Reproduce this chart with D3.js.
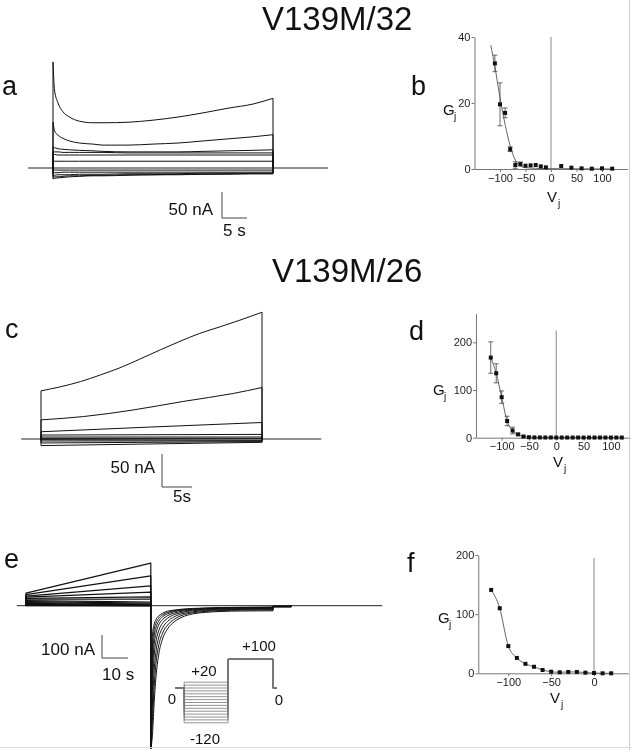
<!DOCTYPE html>
<html><head><meta charset="utf-8">
<script src="https://cdn.jsdelivr.net/npm/d3@7"></script>
<style>body{margin:0;background:#fff}svg{display:block;will-change:transform}</style>
</head><body>
<script>
// ---------------- DATA ----------------
// Panel a (V139M/32 currents): time (s) and current (nA)
const aTime = [0, 0.3, 1, 2, 3.3, 5.3, 8, 10, 15, 20, 25, 30, 35, 40, 44];
const aTraces = [
  [204,150,125,108,98,90,87,87,88,92,98,106,115,123,134],
  [88,72,63,57,52,48,46,44,44,46,48,52,56,60,64],
  [40,39,37,36,35,34,33,32,31,31,31,32,33,34,35],
  [31,31,31,30,30,30,30,30,29,29,29,29,29,29,29],
  [26,26,25,25,25,25,25,25,25,25,25,25,25,25,25],
  [13,13,13,13,13,13,13,13,13,13,13,13,13,13,13],
  [-4,-4,-4,-4,-4,-4,-4,-4,-4,-4,-4,-4,-4,-4,-4],
  [-9,-9,-9,-8,-8,-8,-8,-8,-8,-8,-8,-8,-8,-8,-8],
  [-14,-14,-13,-13,-13,-12,-12,-12,-11,-11,-11,-10,-10,-10,-10],
  [-18,-17,-17,-16,-15,-15,-14,-14,-13,-13,-12,-12,-11,-11,-11],
  [-21,-20,-19,-18,-17,-16,-15,-15,-14,-13,-13,-12,-12,-11,-11]
];
const aBase = [[-5,0],[55,0]];

// Panel b (Gj vs Vj, V139M/32)
const bV   = [-110,-100,-90,-80,-70,-60,-50,-40,-30,-20,-10,20,40,60,80,100,120];
const bG   = [32,19.6,17,6,1.2,1.5,1.0,1.1,1.2,0.8,0.5,0.9,0.4,0.2,0.1,0.2,0.1];
const bErr = [2.5,6.5,1.5,0.7,1,0.6,0.4,0.3,0.3,0.3,0.2,0.2,0.2,0.1,0.1,0.1,0.1];
const bFitV = [-118,-110,-100,-90,-80,-70,-65,-60,-50,-30,0,60,120];
const bFitG = [37.5,31,21.5,13.5,7,2.7,1.5,0.9,0.4,0.2,0.1,0.05,0];

// Panel c (V139M/26 currents)
const cTimes = [
  [0,3.2,6.6,9.9,13.2,16.5,19.9,23.2,26.5,29.9,33.2,36.9],
  [0,7.1,15.4,23.8,32.1,36.9],
  [0,18,36.9],
  [0,36.9],[0,36.9],[0,36.9],[0,36.9],[0,36.9],[0,36.9],[0,36.9]
];
const cVals = [
  [73,79,87,97,108,121,135,148,160,170,180,192],
  [29,34,44,57,69,78],
  [11,18,25],
  [6,7],[3,3],[1,1],[-1,-2],[-3,-3],[-6,-4],[-10,-5]
];
const cBase = [[-3.3,0],[46.8,0]];

// Panel d (Gj vs Vj, V139M/26)
const dV   = [-120,-110,-100,-90,-80,-70,-60,-50,-40,-30,-20,-10,0,10,20,30,40,50,60,70,80,90,100,110,120];
const dG   = [168,135,85,35,15,7,2.5,1,0.5,0.5,0.4,0.4,0.3,0.3,0.3,0.3,0.3,0.3,0.3,0.3,0.3,0.3,0.3,0.3,0.3];
const dErr = [33,20,13,10,7,2,1,0.5,0,0,0,0,0,0,0,0,0,0,0,0,0,0,0,0,0];

// Panel e (currents, ramps then tails at +100)
const eRampStart = [55,48,42,37,32,28,22,18,14,10,7,4,2,0];
const eRampEnd   = [185,130,86,59,38,29,16,11,7,4,2,1,0,-1];
const eTailT = [0,0.3,0.7,1.2,2,3,4.5,6.5,9,12,16,21,27,35,47];
const eTails = [
  [-620,-280,-120,-85,-60,-45,-33,-24,-19,-15,-12,-10,-8,-7,-6],
  [-620,-330,-160,-110,-75,-55,-40,-29,-22,-17,-14,-11,-9,-8,-7],
  [-620,-380,-210,-140,-95,-68,-48,-35,-26,-20,-16,-13,-11,-9,-8],
  [-620,-430,-270,-180,-120,-85,-60,-43,-32,-24,-19,-15,-12,-11,-10],
  [-620,-480,-340,-230,-155,-110,-76,-54,-39,-29,-22,-18,-15,-13,-12],
  [-620,-530,-410,-300,-200,-140,-97,-68,-48,-35,-27,-21,-18,-16,-15],
  [-620,-570,-480,-370,-250,-175,-120,-84,-59,-42,-31,-25,-21,-19,-18],
  [-620,-600,-550,-440,-310,-215,-145,-100,-70,-50,-36,-29,-25,-23,-22]
];
const eAfter = [-2,-2,-3,-3,-4,-4,-5,-5];
const eBase = [[-3.5,0],[137,0]];
const eStepT = 48, eTailEnd = 95, eAfterEnd = 102;

// Voltage protocol inset
const protoV = [20,10,0,-10,-20,-30,-40,-50,-60,-70,-80,-90,-100,-110,-120];
const protoT = [0, 9, 52, 96, 100];
const protoHigh = 100;

// Panel f (Gj vs Vj)
const fV = [-120,-110,-100,-90,-80,-70,-60,-50,-40,-30,-20,-10,0,10,20];
const fG = [141,110,46,26,16,11,5.6,2.7,1.7,2.3,2.3,1.1,0.5,0,0];

// ---------------- DRAWING ----------------
const FONT = '"Liberation Sans", Arial, Helvetica, sans-serif';
const W = 632, H = 750;
const svg = d3.select("body").append("svg").attr("width", W).attr("height", H);
svg.append("rect").attr("width", W).attr("height", H).attr("fill", "#fff");

function text(x, y, s, size, anchor, fill) {
  return svg.append("text").attr("x", x).attr("y", y).attr("font-family", FONT)
    .attr("font-size", size).attr("text-anchor", anchor || "start")
    .attr("fill", fill || "#111").text(s);
}
function path(pts, sx, sy, color, w, curve) {
  const ln = d3.line().x(d => sx(d[0])).y(d => sy(d[1]));
  if (curve) ln.curve(curve);
  svg.append("path").attr("d", ln(pts)).attr("fill", "none")
    .attr("stroke", color).attr("stroke-width", w).attr("stroke-linejoin", "round");
}
function styleAxis(g) {
  g.select(".domain").attr("stroke", "#777").attr("stroke-width", 1);
  g.selectAll(".tick line").attr("stroke", "#777");
  g.selectAll(".tick text").attr("font-family", FONT).attr("font-size", 11).attr("fill", "#222");
}

// Titles
text(262, 30, "V139M/32", 33);
text(272, 282, "V139M/26", 33);

// Panel labels
text(2, 95, "a", 27);
text(411, 95, "b", 27);
text(5, 338, "c", 27);
text(409, 340, "d", 27);
text(4, 568, "e", 27);
text(407, 572, "f", 27);

// ---- Panel a ----
const ax = d3.scaleLinear().domain([0, 44]).range([53, 273]);
const ay = d3.scaleLinear().domain([0, 50]).range([168, 142]);
path(aBase, ax, ay, "#222", 1);
aTraces.forEach(v => {
  const pts = aTime.map((t, i) => [t, v[i]]);
  path(pts, ax, ay, "#111", 1, d3.curveMonotoneX);
  path([[0, 0], [0, v[0]]], ax, ay, "#111", 1);
  path([[44, v[v.length - 1]], [44, 0]], ax, ay, "#111", 1);
});
{
  const x0 = 222, y0 = 218;
  const hV = ay(0) - ay(50), wT = ax(5) - ax(0);
  svg.append("path").attr("d", `M${x0},${y0 - hV}V${y0}H${x0 + wT}`).attr("fill", "none").attr("stroke", "#444");
  text(213, 215, "50 nA", 17, "end");
  text(223, 236, "5 s", 17);
}

// ---- Panel c ----
const cx = d3.scaleLinear().domain([0, 36.9]).range([41, 262]);
const cy = d3.scaleLinear().domain([0, 50]).range([439, 406]);
path(cBase, cx, cy, "#222", 1);
cTimes.forEach((ts, k) => {
  const v = cVals[k];
  path(ts.map((t, i) => [t, v[i]]), cx, cy, "#111", 1, d3.curveMonotoneX);
  path([[0, 0], [0, v[0]]], cx, cy, "#111", 1);
  path([[36.9, v[v.length - 1]], [36.9, 0]], cx, cy, "#111", 1);
});
{
  const x0 = 162, y0 = 487;
  const hV = cy(0) - cy(50), wT = cx(5) - cx(0);
  svg.append("path").attr("d", `M${x0},${y0 - hV}V${y0}H${x0 + wT}`).attr("fill", "none").attr("stroke", "#444");
  text(155, 473, "50 nA", 17, "end");
  text(173, 502, "5s", 17);
}

// ---- Panel e ----
const ex = d3.scaleLinear().domain([0, 10]).range([26, 52]);
const ey = d3.scaleLinear().domain([0, 100]).range([605.7, 582.7]);
path(eBase, ex, ey, "#222", 1);
eRampStart.forEach((s, i) => {
  path([[0, 0], [0, s], [eStepT, eRampEnd[i]], [eStepT, 0]], ex, ey, "#111", 1.2);
});
eTails.forEach((v, k) => {
  path([[eStepT, 0], [eStepT, v[0]]], ex, ey, "#111", 1);
  path(eTailT.map((t, i) => [eStepT + t, v[i]]), ex, ey, "#111", 1, d3.curveMonotoneX);
  path([[eTailEnd, v[v.length - 1]], [eTailEnd, eAfter[k]], [eAfterEnd, eAfter[k]], [eAfterEnd, 0]], ex, ey, "#111", 1);
});
{
  const x0 = 102, y0 = 658;
  const hV = ey(0) - ey(100), wT = ex(10) - ex(0);
  svg.append("path").attr("d", `M${x0},${y0 - hV}V${y0}H${x0 + wT}`).attr("fill", "none").attr("stroke", "#444");
  text(95, 655, "100 nA", 17, "end");
  text(102, 680, "10 s", 17);
}
const px = d3.scaleLinear().domain([0, 100]).range([175, 277]);
const py = d3.scaleLinear().domain([0, 100]).range([688, 659]);
protoV.forEach(v => {
  path([[protoT[0], 0], [protoT[1], 0], [protoT[1], v], [protoT[2], v], [protoT[2], protoHigh],
        [protoT[3], protoHigh], [protoT[3], 0], [protoT[4], 0]], px, py, "#777", 0.8);
});
text(259, 651, "+100", 15, "middle");
text(204, 676, "+20", 15, "middle");
text(172, 704, "0", 15, "middle");
text(279, 705, "0", 15, "middle");
text(205, 744, "-120", 15, "middle");

// ---- G-V panels ----
function gvPanel(o) {
  const gx = svg.append("g").attr("transform", `translate(0,${o.ys(0)})`)
    .call(d3.axisBottom(o.xs).tickValues(o.xTicks).tickSize(3).tickSizeOuter(0).tickPadding(2));
  styleAxis(gx);
  const gy = svg.append("g").attr("transform", `translate(${o.xs.range()[0]},0)`)
    .call(d3.axisLeft(o.ys).tickValues(o.yTicks).tickSize(3).tickSizeOuter(0).tickPadding(1));
  styleAxis(gy);
  svg.append("line").attr("x1", o.xs(0)).attr("x2", o.xs(0)).attr("y1", o.ys(0)).attr("y2", o.ys(o.zeroTop))
    .attr("stroke", "#888").attr("stroke-width", 1);
  path(o.lineV.map((v, i) => [v, o.lineG[i]]), o.xs, o.ys, "#555", 0.9, d3.curveMonotoneX);
  if (o.err) o.V.forEach((v, i) => {
    const e = o.err[i];
    if (e < 0.6) return;
    const x = o.xs(v), y1 = o.ys(o.G[i] + e), y2 = o.ys(Math.max(0, o.G[i] - e));
    svg.append("path").attr("d", `M${x - 2.5},${y1}H${x + 2.5}M${x},${y1}V${y2}M${x - 2.5},${y2}H${x + 2.5}`)
      .attr("fill", "none").attr("stroke", "#444").attr("stroke-width", 0.8);
  });
  o.V.forEach((v, i) => {
    svg.append("rect").attr("x", o.xs(v) - 2).attr("y", o.ys(o.G[i]) - 2).attr("width", 4).attr("height", 4).attr("fill", "#111");
  });
  text(o.gLab[0], o.gLab[1], "G", 15);
  text(o.gLab[0] + 11, o.gLab[1] + 5, "j", 10);
  text(o.vLab[0], o.vLab[1], "V", 15);
  text(o.vLab[0] + 11, o.vLab[1] + 5, "j", 10);
}

gvPanel({
  xs: d3.scaleLinear().domain([-150, 150]).range([474.5, 627.5]),
  ys: d3.scaleLinear().domain([0, 40]).range([169, 37]),
  xTicks: [-100, -50, 0, 50, 100], yTicks: [0, 20, 40], zeroTop: 40,
  V: bV, G: bG, err: bErr, lineV: bFitV, lineG: bFitG,
  gLab: [443, 115], vLab: [547, 202]
});
gvPanel({
  xs: d3.scaleLinear().domain([-147, 135]).range([476, 630]),
  ys: d3.scaleLinear().domain([0, 260]).range([437.7, 313.7]),
  xTicks: [-100, -50, 0, 50, 100], yTicks: [0, 100, 200], zeroTop: 225,
  V: dV, G: dG, err: dErr, lineV: dV, lineG: dG,
  gLab: [433, 395], vLab: [553, 467]
});
gvPanel({
  xs: d3.scaleLinear().domain([-135, 40]).range([478.3, 628.3]),
  ys: d3.scaleLinear().domain([0, 200]).range([673.3, 555]),
  xTicks: [-100, -50, 0], yTicks: [0, 100, 200], zeroTop: 195,
  V: fV, G: fG, err: null, lineV: fV, lineG: fG,
  gLab: [438, 623], vLab: [550, 703]
});

svg.append("line").attr("x1", 629.5).attr("x2", 629.5).attr("y1", 0).attr("y2", H).attr("stroke", "#ccc");
svg.append("line").attr("x1", 0).attr("x2", W).attr("y1", 747.5).attr("y2", 747.5).attr("stroke", "#ddd");
</script>
</body></html>
